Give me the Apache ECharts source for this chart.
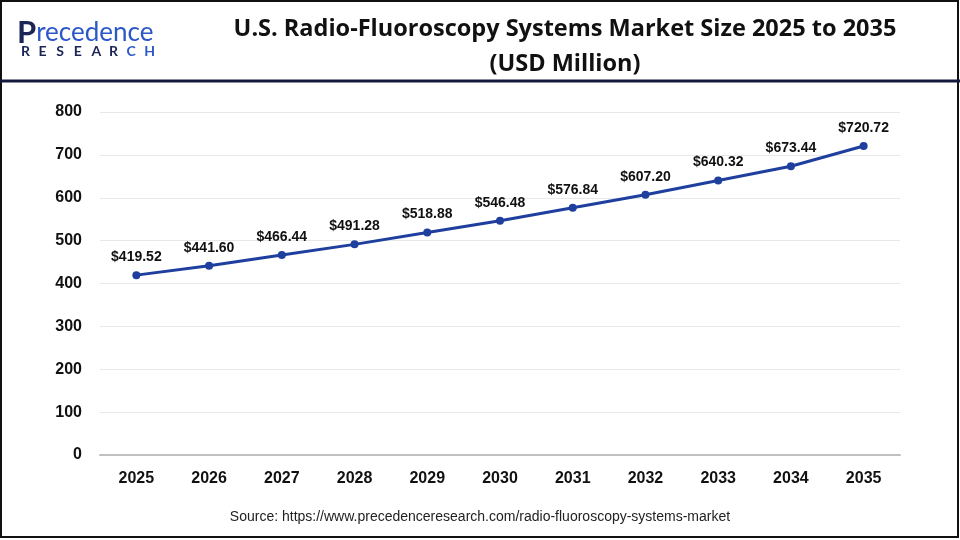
<!DOCTYPE html>
<html><head><meta charset="utf-8">
<script src="https://cdn.jsdelivr.net/npm/echarts@6/dist/echarts.min.js"></script>
<style>html,body{margin:0;padding:0;background:#fff}#c{width:960px;height:540px}</style>
</head><body><div id="c"></div>
<script>
const years = ['2025','2026','2027','2028','2029','2030','2031','2032','2033','2034','2035'];
const marketSize = [419.52, 441.60, 466.44, 491.28, 518.88, 546.48, 576.84, 607.20, 640.32, 673.44, 720.72];
const titleText = 'U.S. Radio-Fluoroscopy Systems Market Size 2025 to 2035\n(USD Million)';
const sourceText = 'Source: https://www.precedenceresearch.com/radio-fluoroscopy-systems-market';
const researchLetters = ['R','E','S','E','A','R','C','H'];

const researchGraphics = researchLetters.map((ch, i) => ({
  type: 'text', x: 21 + i * 17.6, y: 44,
  style: {text: ch, font: 'bold 14px Lato', fill: i >= 6 ? '#2b57c8' : '#1b2556'}
}));

const chart = echarts.init(document.getElementById('c'));
chart.setOption({
  backgroundColor: '#fff',
  animation: false,
  title: {
    text: titleText,
    left: 560, top: 7, textAlign: 'center',
    textStyle: {fontFamily: 'Open Sans', fontWeight: 'bold', fontSize: 23.5, lineHeight: 35, color: '#111'}
  },
  grid: {left: 100, right: 60, top: 112, bottom: 85},
  xAxis: {
    type: 'category', data: years, boundaryGap: true,
    axisLine: {lineStyle: {color: '#c0c0c0', width: 2}},
    axisTick: {show: false},
    axisLabel: {color: '#111', fontFamily: 'Liberation Sans', fontWeight: 'bold', fontSize: 16, margin: 16}
  },
  yAxis: {
    type: 'value', min: 0, max: 800, interval: 100,
    axisLine: {show: false}, axisTick: {show: false},
    splitLine: {lineStyle: {color: '#e8e8e8'}},
    axisLabel: {color: '#111', fontFamily: 'Liberation Sans', fontWeight: 'bold', fontSize: 16, margin: 18}
  },
  series: [{
    type: 'line', data: marketSize,
    symbol: 'circle', symbolSize: 8,
    lineStyle: {color: '#1f3f9f', width: 3},
    itemStyle: {color: '#1f3f9f'},
    label: {show: true, position: 'top', distance: 7, formatter: p => '$' + p.value.toFixed(2),
      color: '#111', fontFamily: 'Liberation Sans', fontWeight: 'bold', fontSize: 14}
  }],
  graphic: [
    {type: 'rect', shape: {x: 1, y: 1, width: 957, height: 536}, style: {fill: 'none', stroke: '#111', lineWidth: 2}, z: 10},
    {type: 'line', shape: {x1: 0, y1: 81, x2: 960, y2: 81}, style: {stroke: '#141a3c', lineWidth: 3}, z: 10},
    {type: 'text', left: 17, top: 17, style: {
      text: '{a|P}{b|recedence}', rich: {
        a: {fontFamily: 'Lato', fontWeight: 'bold', fontSize: 31, fill: '#1b2556'},
        b: {fontFamily: 'Lato', fontSize: 26, fill: '#2b57c8'}
      }}},
    ...researchGraphics,
    {type: 'text', left: 'center', top: 510, style: {text: sourceText, font: '14px "Liberation Sans"', fill: '#222'}}
  ]
});
</script></body></html>
